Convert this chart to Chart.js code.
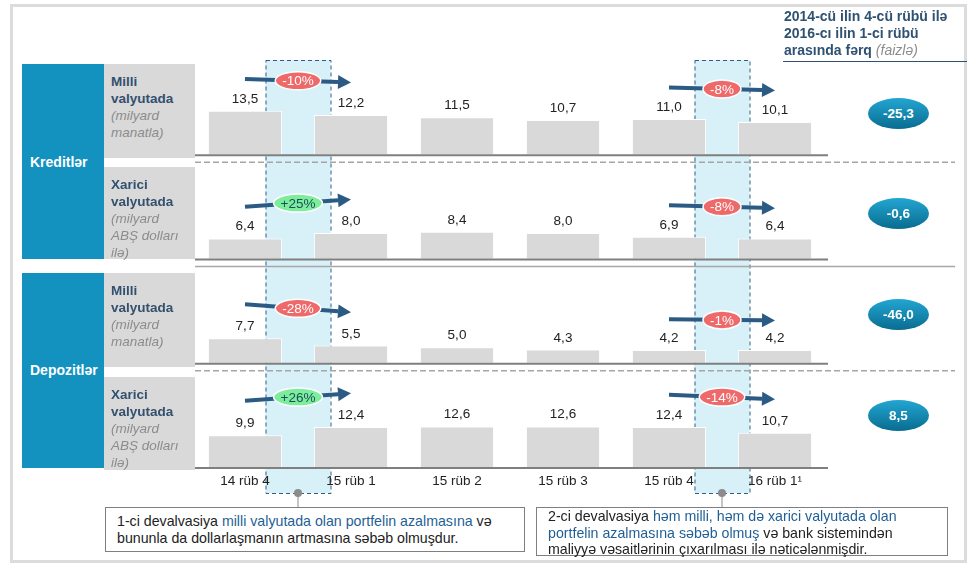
<!DOCTYPE html>
<html lang="az">
<head>
<meta charset="UTF-8">
<title>Kreditlər və depozitlər</title>
<script src="https://cdn.jsdelivr.net/npm/chart.js"></script>
<style>
  body { margin: 0; background: #fff; font-family: "Liberation Sans", Arial, sans-serif; }
  #wrap { position: relative; width: 978px; height: 567px; overflow: hidden; }
  #frame { position: absolute; left: 10px; top: 4px; width: 951px; height: 553px; border: 3px solid #dcdcdc; z-index: 0; }
  #chart { position: absolute; left: 0; top: 0; z-index: 1; }
  .abs { position: absolute; z-index: 2; }
  .blue { background: #1391bf; color: #fff; font-weight: bold; font-size: 14px; }
  .blue span { position: absolute; left: 8px; }
  .gray { background: #d9d9d9; font-size: 13.5px; line-height: 17px; padding: 9px 0 0 7px; box-sizing: border-box; }
  .gray b { color: #33506e; }
  .gray i { color: #8c8c8c; }
  .oval { width: 61px; height: 31px; border-radius: 50%; color: #fff; font-weight: bold; font-size: 13.5px;
          line-height: 31px; text-align: center; background: linear-gradient(#22a6d2, #0a6c90); }
  #head { left: 784px; top: 8px; font-size: 14px; font-weight: bold; line-height: 17px; color: #2f5272; }
  #head i { color: #8c8c8c; font-weight: normal; }
  #headLine { left: 783px; top: 61px; width: 184px; height: 1px; background: #2f5272; }
  .note { border: 1px solid #7f7f7f; background: #fff; font-size: 14.2px; line-height: 16.5px; color: #222;
          box-sizing: border-box; padding: 5px 0 0 11px; white-space: nowrap; }
  .note .hl { color: #1f5f95; }
</style>
</head>
<body>
<div id="wrap">
  <div id="frame"></div>
  <canvas id="chart" width="978" height="567"></canvas>

  <div class="abs blue" style="left:22px;top:64px;width:82px;height:195px;"><span style="top:90px;">Kreditlər</span></div>
  <div class="abs blue" style="left:22px;top:273px;width:82px;height:195px;"><span style="top:89px;">Depozitlər</span></div>

  <div class="abs gray" style="left:104px;top:64px;width:91px;height:94px;"><b>Milli<br>valyutada</b><br><i>(milyard<br>manatla)</i></div>
  <div class="abs gray" style="left:104px;top:167px;width:91px;height:92px;"><b>Xarici<br>valyutada</b><br><i>(milyard<br>ABŞ dolları<br>ilə)</i></div>
  <div class="abs gray" style="left:104px;top:273px;width:91px;height:94px;"><b>Milli<br>valyutada</b><br><i>(milyard<br>manatla)</i></div>
  <div class="abs gray" style="left:104px;top:377px;width:91px;height:93px;"><b>Xarici<br>valyutada</b><br><i>(milyard<br>ABŞ dolları<br>ilə)</i></div>

  <div id="head" class="abs">2014-cü ilin 4-cü rübü ilə<br>2016-cı ilin 1-ci rübü<br>arasında fərq <i>(faizlə)</i></div>
  <div id="headLine" class="abs"></div>

  <div id="ovals"></div>

  <div class="abs note" style="left:105px;top:507px;width:420px;height:45px;">1-ci devalvasiya <span class="hl">milli valyutada olan portfelin azalmasına</span> və<br>bununla da dollarlaşmanın artmasına səbəb olmuşdur.</div>
  <div class="abs note" style="left:536px;top:507px;width:412px;height:49px;padding-top:0;">2-ci devalvasiya <span class="hl">həm milli, həm də xarici valyutada olan<br>portfelin azalmasına səbəb olmuş</span> və bank sistemindən<br>maliyyə vəsaitlərinin çıxarılması ilə nəticələnmişdir.</div>
</div>

<script>
// categories
const quarters = ['14 rüb 4', '15 rüb 1', '15 rüb 2', '15 rüb 3', '15 rüb 4', '16 rüb 1¹'];

// series values (billions)
const kreditMilli   = [13.5, 12.2, 11.5, 10.7, 11.0, 10.1];
const kreditXarici  = [6.4, 8.0, 8.4, 8.0, 6.9, 6.4];
const depozitMilli  = [7.7, 5.5, 5.0, 4.3, 4.2, 4.2];
const depozitXarici = [9.9, 12.4, 12.6, 12.6, 12.4, 10.7];

// % change across each devaluation, per row (top to bottom)
const firstDeval  = [-10, 25, -28, 26];
const secondDeval = [-8, -8, -1, -14];

// difference 14Q4 -> 16Q1 (percent), per row
const totalDiff = [-25.3, -0.6, -46.0, 8.5];

const rows = [kreditMilli, kreditXarici, depozitMilli, depozitXarici];
const ROW_H = 31.6;                 // units per row band
const devals = [
  { from: 0, to: 1, pct: firstDeval,  width: 65 },
  { from: 4, to: 5, pct: secondDeval, width: 55 }
];

const fmt = v => v.toFixed(1).replace('.', ',');
const base = i => (rows.length - 1 - i) * ROW_H;

// right-hand ovals
const ovalY = [113, 213, 314, 415];
const ovalBox = document.getElementById('ovals');
totalDiff.forEach((d, i) => {
  const el = document.createElement('div');
  el.className = 'abs oval';
  el.style.left = '868px';
  el.style.top = (ovalY[i] - 15) + 'px';
  el.textContent = fmt(d);
  ovalBox.appendChild(el);
});

function drawArrow(ctx, x1, y1, x2, y2) {
  const a = Math.atan2(y2 - y1, x2 - x1);
  const head = 13, hw = 7;
  const bx = x2 - head * Math.cos(a), by = y2 - head * Math.sin(a);
  ctx.strokeStyle = ctx.fillStyle = '#2b5b84';
  ctx.lineWidth = 4;
  ctx.beginPath(); ctx.moveTo(x1, y1); ctx.lineTo(bx, by); ctx.stroke();
  ctx.beginPath();
  ctx.moveTo(x2, y2);
  ctx.lineTo(bx - hw * Math.sin(a), by + hw * Math.cos(a));
  ctx.lineTo(bx + hw * Math.sin(a), by - hw * Math.cos(a));
  ctx.closePath(); ctx.fill();
}

function drawPill(ctx, x, y, pct) {
  const txt = (pct > 0 ? '+' : '') + pct + '%';
  ctx.font = '13.5px "Liberation Sans", Arial, sans-serif';
  const w = ctx.measureText(txt).width + 14, h = 18;
  ctx.beginPath();
  ctx.ellipse(x, y, w / 2, h / 2, 0, 0, Math.PI * 2);
  ctx.fillStyle = pct > 0 ? '#7cee9b' : '#ee6a6a';
  ctx.fill();
  ctx.lineWidth = 1.5; ctx.strokeStyle = '#fff'; ctx.stroke();
  ctx.fillStyle = pct > 0 ? '#1c4f5e' : '#fff';
  ctx.textAlign = 'center'; ctx.textBaseline = 'middle';
  ctx.fillText(txt, x, y + 1);
}

const overlay = {
  id: 'overlay',
  // bands go under everything, including the tick labels
  beforeDraw(chart) {
    const { ctx, chartArea: ca, scales: { x } } = chart;
    ctx.save();
    devals.forEach(d => {
      const cx = (x.getPixelForValue(d.from) + x.getPixelForValue(d.to)) / 2;
      const l = cx - d.width / 2, t = ca.top + 9, b = ca.bottom + 25;
      ctx.fillStyle = '#d8f1f8';
      ctx.fillRect(l, t, d.width, b - t);
      ctx.setLineDash([4, 3]); ctx.lineWidth = 1; ctx.strokeStyle = '#2e5f86';
      ctx.strokeRect(l + 0.5, t + 0.5, d.width, b - t);
      ctx.setLineDash([]);
      // connector to the note box
      ctx.strokeStyle = '#8c8c8c';
      ctx.beginPath(); ctx.moveTo(cx, b); ctx.lineTo(cx, b + 14); ctx.stroke();
      ctx.fillStyle = '#8c8c8c';
      ctx.beginPath(); ctx.arc(cx, b, 4, 0, Math.PI * 2); ctx.fill();
    });
    ctx.restore();
  },
  afterDatasetsDraw(chart) {
    const { ctx, chartArea: ca, scales: { x, y } } = chart;
    ctx.save();
    rows.forEach((vals, i) => {
      const by = y.getPixelForValue(base(i));
      // baseline
      ctx.strokeStyle = '#7f7f7f'; ctx.lineWidth = 2;
      ctx.beginPath(); ctx.moveTo(ca.left + 3, by); ctx.lineTo(ca.right, by); ctx.stroke();
      // row separator
      if (i < rows.length - 1) {
        ctx.lineWidth = 1.5; ctx.strokeStyle = '#a6a6a6';
        if (i !== 1) ctx.setLineDash([6, 3]);
        ctx.beginPath(); ctx.moveTo(ca.left + 3, by + 7); ctx.lineTo(955, by + 7); ctx.stroke();
        ctx.setLineDash([]);
      }
      // value labels
      ctx.fillStyle = '#222';
      ctx.font = '13.5px "Liberation Sans", Arial, sans-serif';
      ctx.textAlign = 'center'; ctx.textBaseline = 'bottom';
      vals.forEach((v, j) => {
        ctx.fillText(fmt(v), x.getPixelForValue(j), y.getPixelForValue(base(i) + v) - 5);
      });
      // devaluation arrows
      devals.forEach(d => {
        const pct = d.pct[i];
        const x1 = x.getPixelForValue(d.from), x2 = x.getPixelForValue(d.to);
        const top = y.getPixelForValue(base(i) + Math.max(vals[d.from], vals[d.to]));
        const ym = top - 30;
        const tilt = Math.sign(-pct) * Math.min(8, 1 + Math.abs(pct) * 0.25) / 2;
        drawArrow(ctx, x1, ym - tilt, x2, ym + tilt);
        drawPill(ctx, (x1 + x2) / 2, ym, pct);
      });
    });
    ctx.restore();
  }
};

const datasets = rows.map((vals, i) => ({
  data: vals.map(v => [base(i), base(i) + v]),
  backgroundColor: '#d9d9d9',
  borderColor: '#ffffff',
  borderWidth: 1,
  borderSkipped: false,
  grouped: false,
  barPercentage: 0.7,
  categoryPercentage: 1
}));

new Chart(document.getElementById('chart'), {
  type: 'bar',
  data: { labels: quarters, datasets },
  options: {
    responsive: false,
    animation: false,
    layout: { padding: { left: 192, right: 150, top: 51, bottom: 74 } },
    plugins: { legend: { display: false }, tooltip: { enabled: false } },
    scales: {
      x: {
        grid: { display: false, drawTicks: false },
        border: { display: false },
        ticks: { color: '#222', padding: 5, font: { size: 13.5, family: '"Liberation Sans", Arial, sans-serif' } },
        afterFit: s => { s.height = 25; }
      },
      y: { display: false, min: 0, max: ROW_H * rows.length }
    }
  },
  plugins: [overlay]
});
</script>
</body>
</html>
